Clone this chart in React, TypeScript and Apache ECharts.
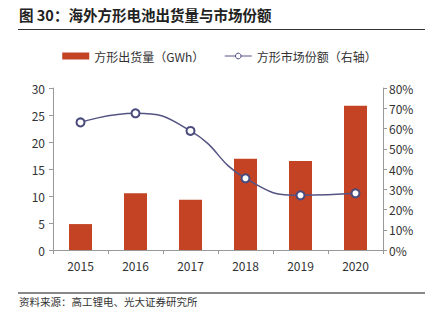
import React, { useEffect, useRef } from "react";
import * as echarts from "echarts";

const categories = ["2015", "2016", "2017", "2018", "2019", "2020"];
const shipments = [4.8, 10.5, 9.3, 16.9, 16.5, 26.7];
const share = [63, 67.5, 58.8, 35.4, 27, 28];
const leftTicks = { min: 0, max: 30, interval: 5 };
const rightTicks = { min: 0, max: 80, interval: 10 };

export default function App() {
  const ref = useRef<HTMLDivElement>(null);
  useEffect(() => {
    const chart = echarts.init(ref.current!, null, { renderer: "svg" });
    const font = "'Noto Sans CJK SC', 'Noto Sans', sans-serif";
    chart.setOption({
      animation: false,
      textStyle: { fontFamily: font },
      grid: { left: 53, right: 56, top: 88, bottom: 71 },
      legend: {
        top: 45,
        left: "center",
        itemGap: 20,
        itemWidth: 27,
        itemHeight: 7,
        textStyle: { fontSize: 12, color: "#333", fontFamily: font },
        data: [
          { name: "方形出货量（GWh）", icon: "rect" },
          {
            name: "方形市场份额（右轴）",
            itemStyle: { borderWidth: 1 },
            lineStyle: { width: 1 },
          },
        ],
      },
      graphic: [
        {
          type: "text",
          left: 19,
          top: 7,
          style: {
            text: "图 30：海外方形电池出货量与市场份额",
            fontSize: 14.5,
            fontWeight: "bold",
            fill: "#222",
            fontFamily: font,
          },
        },
        {
          type: "line",
          shape: { x1: 18, y1: 29.5, x2: 425, y2: 29.5 },
          style: { stroke: "#333", lineWidth: 1 },
        },
        {
          type: "line",
          shape: { x1: 18, y1: 293, x2: 425, y2: 293 },
          style: { stroke: "#888", lineWidth: 2 },
        },
        {
          type: "text",
          left: 19,
          top: 296,
          style: {
            text: "资料来源：高工锂电、光大证券研究所",
            fontSize: 10.5,
            fill: "#333",
            fontFamily: font,
          },
        },
      ],
      xAxis: {
        type: "category",
        data: categories,
        axisLine: { lineStyle: { color: "#999" } },
        axisTick: { show: true, lineStyle: { color: "#999" }, length: 4 },
        axisLabel: { color: "#333", fontSize: 12, margin: 9 },
      },
      yAxis: [
        {
          type: "value",
          ...leftTicks,
          axisLine: { show: true, lineStyle: { color: "#999" } },
          axisTick: { show: true, lineStyle: { color: "#999" }, length: 4 },
          splitLine: { show: false },
          axisLabel: { color: "#333", fontSize: 12, margin: 8 },
        },
        {
          type: "value",
          ...rightTicks,
          position: "right",
          axisLine: { show: true, lineStyle: { color: "#999" } },
          axisTick: { show: true, lineStyle: { color: "#999" }, length: 4 },
          splitLine: { show: false },
          axisLabel: { color: "#333", fontSize: 12, margin: 6, formatter: "{value}%" },
        },
      ],
      series: [
        {
          name: "方形出货量（GWh）",
          type: "bar",
          data: shipments,
          barWidth: 23,
          itemStyle: { color: "#c44324" },
        },
        {
          name: "方形市场份额（右轴）",
          type: "line",
          yAxisIndex: 1,
          data: share,
          smooth: true,
          symbol: "circle",
          symbolSize: 8,
          lineStyle: { color: "#545483", width: 1.5 },
          itemStyle: { color: "#fff", borderColor: "#4a4a7c", borderWidth: 2 },
        },
      ],
    });
    return () => chart.dispose();
  }, []);
  return (
    <div
      ref={ref}
      style={{ position: "fixed", left: 0, top: 0, width: 439, height: 321, background: "#fff" }}
    />
  );
}
